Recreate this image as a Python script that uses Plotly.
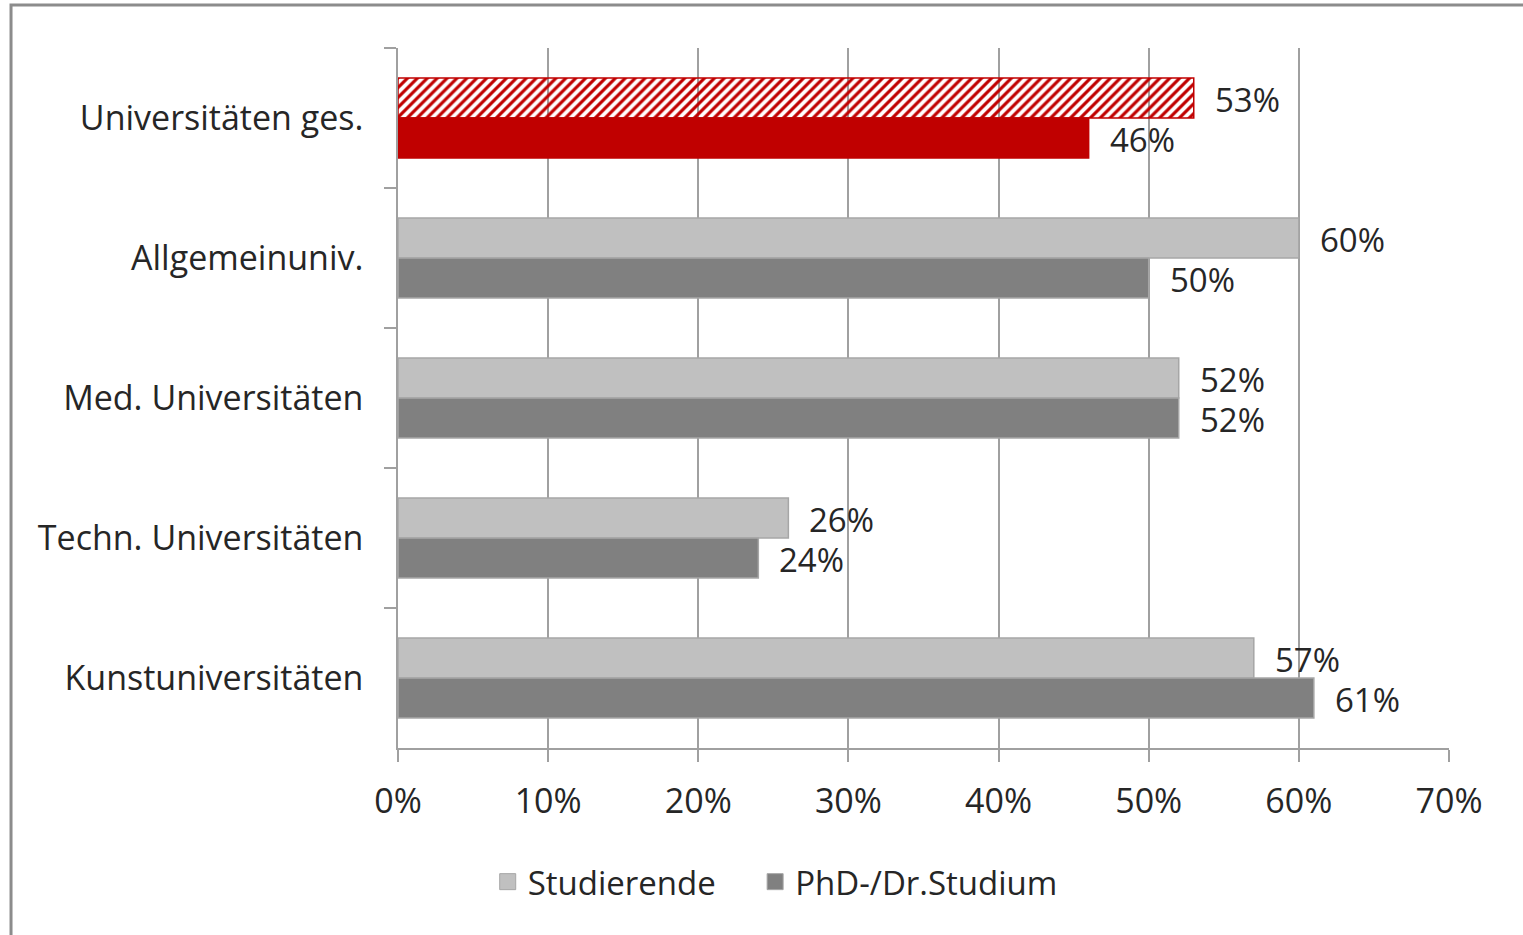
import plotly.graph_objects as go

categories = ["Universitäten ges.", "Allgemeinuniv.", "Med. Universitäten",
              "Techn. Universitäten", "Kunstuniversitäten"]
studierende = [0.53, 0.60, 0.52, 0.26, 0.57]
phd = [0.46, 0.50, 0.52, 0.24, 0.61]
series_names = ["Studierende", "PhD-/Dr.Studium"]
x_ticks = [0, 0.1, 0.2, 0.3, 0.4, 0.5, 0.6, 0.7]

RED = "#C00000"
LIGHT = "#C0C0C0"
DARK = "#808080"
TXT = "#262626"
FONT = "Open Sans"

stud_colors = [RED] + [LIGHT] * (len(categories) - 1)
phd_colors = [RED] + [DARK] * (len(categories) - 1)
stud_shapes = ["/"] + [""] * (len(categories) - 1)
stud_lines = [RED] + ["#A6A6A6"] * (len(categories) - 1)
phd_lines = [RED] + ["#A6A6A6"] * (len(categories) - 1)

fig = go.Figure()
fig.add_trace(go.Bar(
    y=categories, x=studierende, orientation="h", name=series_names[0],
    showlegend=False,
    marker=dict(color=stud_colors, line=dict(color=stud_lines, width=1.5),
                pattern=dict(shape=stud_shapes, fillmode="replace",
                             bgcolor="white", size=7, solidity=0.45)),
))
fig.add_trace(go.Bar(
    y=categories, x=phd, orientation="h", name=series_names[1],
    showlegend=False,
    marker=dict(color=phd_colors, line=dict(color=phd_lines, width=1.5)),
))
# legend entries (non-breaking spaces widen the gap between the two entries)
fig.add_trace(go.Scatter(x=[None], y=[None], mode="markers",
                         name=series_names[0] + "\u00a0" * 4,
                         marker=dict(symbol="square", size=22, color=LIGHT,
                                     line=dict(color="#A6A6A6", width=1))))
fig.add_trace(go.Scatter(x=[None], y=[None], mode="markers", name=series_names[1],
                         marker=dict(symbol="square", size=22, color=DARK,
                                     line=dict(color="#A6A6A6", width=1))))

annotations = []
for cat, v in zip(categories, studierende):
    annotations.append(dict(x=v, y=cat, xref="x", yref="y", text=f"{round(v*100)}%",
                            showarrow=False, xanchor="left", yanchor="middle",
                            xshift=19, yshift=19,
                            font=dict(family=FONT, size=33, color=TXT)))
for cat, v in zip(categories, phd):
    annotations.append(dict(x=v, y=cat, xref="x", yref="y", text=f"{round(v*100)}%",
                            showarrow=False, xanchor="left", yanchor="middle",
                            xshift=19, yshift=-21,
                            font=dict(family=FONT, size=33, color=TXT)))

fig.update_layout(
    width=1523, height=935,
    margin=dict(l=398, r=74, t=48, b=187),
    paper_bgcolor="white", plot_bgcolor="white",
    barmode="group", bargap=0.43, bargroupgap=0,
    font=dict(family=FONT, color=TXT),
    annotations=annotations,
    legend=dict(orientation="h", xref="container", yref="container",
                x=0.509, xanchor="center", y=0.057, yanchor="middle",
                font=dict(family=FONT, size=33, color=TXT),
                itemwidth=30, tracegroupgap=0),
    shapes=[dict(type="rect", xref="paper", yref="paper",
                 x0=-0.3682, x1=1.3, y0=-0.5, y1=1.0614,
                 line=dict(color="#8C8C8C", width=3), fillcolor="rgba(0,0,0,0)",
                 layer="below")],
)
fig.update_xaxes(range=[0, 0.7], tickvals=x_ticks, tickformat=".0%",
                 showgrid=True, gridcolor="#A0A0A0", gridwidth=1.5,
                 showline=True, linecolor="#A0A0A0", linewidth=1.5,
                 ticks="outside", ticklen=12, tickcolor="#A0A0A0", tickwidth=1.5,
                 tickfont=dict(family=FONT, size=34, color=TXT),
                 ticklabelstandoff=10,
                 zeroline=False, fixedrange=True)
fig.update_yaxes(autorange="reversed", type="category",
                 showline=True, linecolor="#A0A0A0", linewidth=1.5,
                 ticks="outside", ticklen=12, tickcolor="#A0A0A0", tickwidth=1.5,
                 tickson="boundaries", showgrid=False,
                 tickfont=dict(family=FONT, size=34, color=TXT),
                 ticklabelstandoff=26)

fig.write_html("out.html")
